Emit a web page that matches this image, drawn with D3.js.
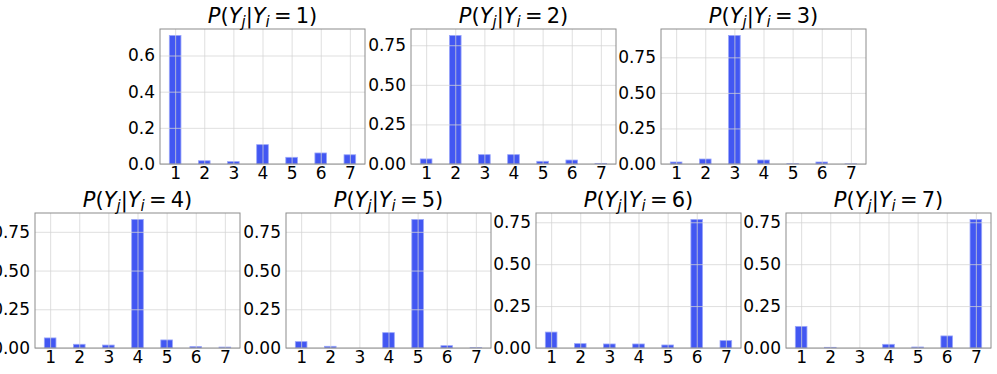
<!DOCTYPE html>
<html>
<head>
<meta charset="utf-8">
<script src="https://cdn.jsdelivr.net/npm/d3@7"></script>
<style>
  body { margin: 0; background: #fff; }
  text { font-family: "DejaVu Sans", sans-serif; }
</style>
</head>
<body>
<div id="chart"></div>
<script>
// categories on the x axis (Y_j) and the conditioning value (Y_i) per panel
const categories = [1, 2, 3, 4, 5, 6, 7]
const given = [1, 2, 3, 4, 5, 6, 7]

// P(Y_j | Y_i = k)
const p1 = [0.711, 0.018, 0.013, 0.107, 0.037, 0.061, 0.051]
const p2 = [0.032, 0.812, 0.059, 0.059, 0.017, 0.025, 0.004]
const p3 = [0.014, 0.035, 0.904, 0.028, 0.002, 0.014, 0.001]
const p4 = [0.065, 0.024, 0.019, 0.830, 0.052, 0.009, 0.006]
const p5 = [0.041, 0.011, 0.000, 0.099, 0.830, 0.015, 0.002]
const p6 = [0.095, 0.026, 0.024, 0.024, 0.018, 0.767, 0.044]
const p7 = [0.129, 0.004, 0.000, 0.022, 0.006, 0.072, 0.767]

// y tick values per panel
const ticks1 = [0, 0.2, 0.4, 0.6]
const ticksOther = [0, 0.25, 0.5, 0.75]

const series = [p1, p2, p3, p4, p5, p6, p7]
const tickSets = [ticks1, ticksOther, ticksOther, ticksOther, ticksOther, ticksOther, ticksOther]

// canvas
const width = 997,
height = 374

// axes boxes (left, top) for each panel
const boxW = 205, boxH = 135
const layout = [
  [160, 29], [411, 29], [661, 29],
  [35, 213], [286, 213], [536, 213], [786, 213]
]

const barColor = '#4257f2'
const gridColor = '#d4d4d4'
const spineColor = '#8c8c8c'

let svg = d3.select('#chart')
.append('svg')
.attr('width', width)
.attr('height', height)

let drawPanel = (values, k, yticks, pos) => {
  const g = svg.append('g')
  .attr('transform', `translate(${pos[0]},${pos[1]})`)

  const xScale = d3.scaleLinear()
  .domain([0.48, 7.52])
  .range([0, boxW])

  const yScale = d3.scaleLinear()
  .domain([0, d3.max(values) * 1.05])
  .range([boxH, 0])

  const fmt = yticks[1] === 0.2 ? d3.format('.1f') : d3.format('.2f')

  // bars
  g.selectAll('rect.bar')
  .data(values)
  .enter()
  .append('rect')
  .attr('class', 'bar')
  .attr('x', (d, i) => xScale(categories[i] - 0.2))
  .attr('width', xScale(1.4) - xScale(1))
  .attr('y', d => yScale(d))
  .attr('height', d => boxH - yScale(d))
  .attr('fill', barColor)
  .attr('stroke', '#9aa6fa')
  .attr('stroke-width', 0.8)

  // grid, drawn on top like the original
  const yAxis = d3.axisLeft(yScale)
  .tickValues(yticks)
  .tickSize(-boxW)
  .tickPadding(5)
  .tickFormat(fmt)

  const xAxis = d3.axisBottom(xScale)
  .tickValues(categories)
  .tickSize(-boxH)
  .tickPadding(3)
  .tickFormat(d3.format('d'))

  const ya = g.append('g').call(yAxis)
  const xa = g.append('g')
  .attr('transform', `translate(0,${boxH})`)
  .call(xAxis)

  ;[ya, xa].forEach(a => {
    a.select('.domain').remove()
    a.selectAll('.tick line')
    .attr('stroke', gridColor)
    .attr('stroke-opacity', 0.75)
    .attr('stroke-width', 1)
    a.selectAll('.tick text')
    .attr('fill', '#000')
    .style('font-size', '17px')
    .style('font-family', '"DejaVu Sans", sans-serif')
  })

  // spines
  g.append('rect')
  .attr('width', boxW)
  .attr('height', boxH)
  .attr('fill', 'none')
  .attr('stroke', spineColor)
  .attr('stroke-width', 1)

  // title  P(Y_j|Y_i = k)
  const t = g.append('text')
  .attr('x', boxW / 2)
  .attr('y', -6)
  .attr('text-anchor', 'middle')
  .style('font-size', '21px')
  .attr('fill', '#000')

  t.append('tspan').style('font-style', 'italic').text('P')
  t.append('tspan').text('(')
  t.append('tspan').style('font-style', 'italic').text('Y')
  t.append('tspan').style('font-style', 'italic').style('font-size', '15px').attr('dy', 4).text('j')
  t.append('tspan').attr('dy', -4).text('|')
  t.append('tspan').style('font-style', 'italic').text('Y')
  t.append('tspan').style('font-style', 'italic').style('font-size', '15px').attr('dy', 4).text('i')
  t.append('tspan').attr('dy', -4).text('\u2009=\u2009' + k + ')')
}

series.forEach((vals, i) => {
  drawPanel(vals, given[i], tickSets[i], layout[i])
})
</script>
</body>
</html>
